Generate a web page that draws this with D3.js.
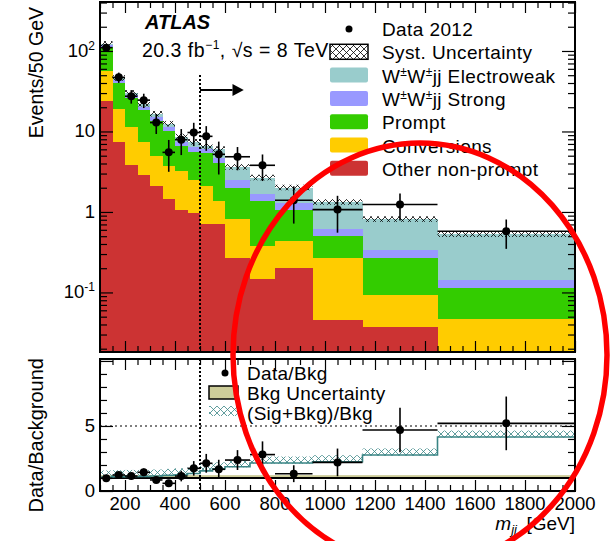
<!DOCTYPE html>
<html>
<head>
<meta charset="utf-8">
<script src="https://cdn.jsdelivr.net/npm/d3@7"></script>
<style>
  body { margin: 0; background: #fff; }
  svg { display: block; font-family: "Liberation Sans", Arial, Helvetica, sans-serif; }
</style>
</head>
<body>
<svg id="chart" width="610" height="541"></svg>
<script>
// bins in m_jj [GeV]
const binEdges = [100, 150, 200, 250, 300, 350, 400, 450, 500, 550, 600, 700, 800, 950, 1150, 1450, 2000];

// stacked backgrounds + signal, Events / 50 GeV
const otherNonPrompt = [24, 7.5, 3.8, 2.9, 2.1, 1.43, 1.07, 0.98, 0.7, 0.7, 0.27, 0.145, 0.2, 0.046, 0.037, 0];
const conversions = [32, 11.5, 7.7, 4.4, 2.8, 2.27, 2.13, 1.52, 1.4, 0.66, 0.54, 0.231, 0.234, 0.224, 0.057, 0.047];
const prompt = [56, 21, 14.5, 11.2, 8.6, 6.3, 3.4, 3.1, 3.3, 2.64, 1.19, 0.984, 0.636, 0.23, 0.176, 0.065];
const wwStrong = [6, 3, 2, 1.5, 1.7, 1.3, 0.9, 0.8, 0.6, 0.7, 0.5, 0.29, 0.23, 0.12, 0.065, 0.029];
const wwEW = [4, 3, 2, 2, 1.3, 1.1, 1.1, 1.0, 0.6, 1.3, 1.1, 1.01, 0.7, 0.7, 0.475, 0.384];

const data2012 = [110, 47, 27.4, 24.5, 12.9, 5.5, 7.9, 9.7, 8.7, 5.2, 4.85, 3.8, 1.4, 1.07, 1.24, 0.577];

// ratio panel
const ratioData = [0.98, 1.23, 1.15, 1.44, 0.85, 0.59, 1.15, 1.74, 2.13, 1.67, 2.38, 2.8, 1.33, 2.2, 4.69, 5.2];
const sigBkgRatio = [1.08, 1.1, 1.12, 1.12, 1.15, 1.2, 1.25, 1.35, 1.55, 1.7, 1.87, 2.15, 2.15, 2.25, 2.77, 4.15];

const xTicks = [200, 400, 600, 800, 1000, 1200, 1400, 1600, 1800, 2000];
const yTicks = [0.1, 1, 10, 100];
const ratioTicks = [0, 5];

const main = { left: 100, right: 575, top: 2, bottom: 352 };
const rat = { top: 359, bottom: 491 };

const svg = d3.select("#chart");
const defs = svg.append("defs");

const addHatch = (id, color) => {
  defs.append("pattern")
    .attr("id", id)
    .attr("width", 7).attr("height", 7)
    .attr("patternUnits", "userSpaceOnUse")
    .append("path")
    .attr("d", "M0,0L7,7M7,0L0,7")
    .attr("stroke", color)
    .attr("stroke-width", 0.8)
    .attr("fill", "none");
};
addHatch("hatchX", "#000");
addHatch("hatchTeal", "#3a8585");

const x = d3.scaleLinear().domain([100, 2000]).range([main.left, main.right]);
const y = d3.scaleLog().domain([0.0182, 406]).range([main.bottom, main.top]);
const yr = d3.scaleLinear().domain([0, 10.15]).range([rat.bottom, rat.top]);
const yMin = y.domain()[0];
const yy = v => y(Math.max(v, yMin));

const bins = d3.range(binEdges.length - 1).map(i => ({
  lo: binEdges[i],
  hi: binEdges[i + 1],
  mid: (binEdges[i] + binEdges[i + 1]) / 2,
  red: otherNonPrompt[i],
  conv: conversions[i],
  prompt: prompt[i],
  strong: wwStrong[i],
  ew: wwEW[i]
}));

const keys = ["red", "conv", "prompt", "strong", "ew"];
const colors = { red: "#cc3333", conv: "#ffcc00", prompt: "#33cc00", strong: "#9999ff", ew: "#99cccc" };
const stacked = d3.stack().keys(keys)(bins);

// stacked histogram
const gStack = svg.append("g").attr("shape-rendering", "crispEdges");
stacked.forEach(layer => {
  gStack.selectAll(null)
    .data(layer)
    .join("rect")
    .attr("x", d => x(d.data.lo))
    .attr("width", d => x(d.data.hi) - x(d.data.lo))
    .attr("y", d => yy(d[1]))
    .attr("height", d => Math.max(0, yy(d[0]) - yy(d[1])))
    .attr("fill", colors[layer.key]);
});

// systematic uncertainty band
const totals = stacked[stacked.length - 1].map(d => d[1]);
svg.append("g").selectAll("rect")
  .data(bins)
  .join("rect")
  .attr("x", d => x(d.lo))
  .attr("width", d => x(d.hi) - x(d.lo))
  .attr("y", (d, i) => yy(totals[i] * 1.09))
  .attr("height", (d, i) => yy(totals[i] * 0.93) - yy(totals[i] * 1.09))
  .attr("fill", "url(#hatchX)");

// cut line at 500 GeV
svg.append("line")
  .attr("x1", x(500)).attr("x2", x(500))
  .attr("y1", 75).attr("y2", main.bottom)
  .attr("stroke", "#000").attr("stroke-width", 2).attr("stroke-dasharray", "2,2");
svg.append("line")
  .attr("x1", x(500)).attr("x2", x(630))
  .attr("y1", 90).attr("y2", 90)
  .attr("stroke", "#000").attr("stroke-width", 2);
svg.append("path")
  .attr("d", `M${x(630)},84L${x(675)},90L${x(630)},96Z`)
  .attr("fill", "#000");

// data points with Poisson errors
const dataPts = bins.map((b, i) => {
  const k = (b.hi - b.lo) / 50;
  const err = Math.sqrt(data2012[i] * k) / k;
  return { ...b, v: data2012[i], err };
});
const gData = svg.append("g");
gData.selectAll(".ev")
  .data(dataPts)
  .join("line")
  .attr("x1", d => x(d.mid)).attr("x2", d => x(d.mid))
  .attr("y1", d => yy(d.v + d.err)).attr("y2", d => yy(d.v - d.err))
  .attr("stroke", "#000").attr("stroke-width", 1.6);
gData.selectAll(".eh")
  .data(dataPts)
  .join("line")
  .attr("x1", d => x(d.lo)).attr("x2", d => x(d.hi))
  .attr("y1", d => yy(d.v)).attr("y2", d => yy(d.v))
  .attr("stroke", "#000").attr("stroke-width", 1.6);
gData.selectAll("circle")
  .data(dataPts)
  .join("circle")
  .attr("cx", d => x(d.mid)).attr("cy", d => yy(d.v))
  .attr("r", 4).attr("fill", "#000");

// ---- ratio panel ----
svg.append("rect")
  .attr("x", main.left).attr("width", main.right - main.left)
  .attr("y", yr(1.22)).attr("height", yr(1) - yr(1.22))
  .attr("fill", "#cccc99");
svg.append("line")
  .attr("x1", main.left).attr("x2", main.right)
  .attr("y1", yr(1)).attr("y2", yr(1))
  .attr("stroke", "#000").attr("stroke-width", 2);

svg.append("line")
  .attr("x1", main.left).attr("x2", main.right)
  .attr("y1", yr(5)).attr("y2", yr(5))
  .attr("stroke", "#000").attr("stroke-width", 1.2).attr("stroke-dasharray", "2,3");
svg.append("line")
  .attr("x1", x(500)).attr("x2", x(500))
  .attr("y1", rat.top).attr("y2", rat.bottom)
  .attr("stroke", "#000").attr("stroke-width", 2).attr("stroke-dasharray", "2,2");

svg.append("g").selectAll("rect")
  .data(bins)
  .join("rect")
  .attr("x", d => x(d.lo))
  .attr("width", d => x(d.hi) - x(d.lo))
  .attr("y", (d, i) => yr(sigBkgRatio[i] + 0.5))
  .attr("height", (d, i) => yr(sigBkgRatio[i] - 0.05) - yr(sigBkgRatio[i] + 0.5))
  .attr("fill", "url(#hatchTeal)");

const stepPts = bins.flatMap((b, i) => [[b.lo, sigBkgRatio[i]], [b.hi, sigBkgRatio[i]]]);
svg.append("path")
  .attr("d", d3.line().x(d => x(d[0])).y(d => yr(d[1]))(stepPts))
  .attr("fill", "none").attr("stroke", "#3a8585").attr("stroke-width", 1.6);

const ratioPts = dataPts.map((d, i) => ({ ...d, r: ratioData[i], rerr: ratioData[i] * d.err / d.v }));
const gRat = svg.append("g");
gRat.selectAll(".ev")
  .data(ratioPts)
  .join("line")
  .attr("x1", d => x(d.mid)).attr("x2", d => x(d.mid))
  .attr("y1", d => yr(d.r + d.rerr)).attr("y2", d => yr(Math.max(0, d.r - d.rerr)))
  .attr("stroke", "#000").attr("stroke-width", 1.6);
gRat.selectAll(".eh")
  .data(ratioPts)
  .join("line")
  .attr("x1", d => x(d.lo)).attr("x2", d => x(d.hi))
  .attr("y1", d => yr(d.r)).attr("y2", d => yr(d.r))
  .attr("stroke", "#000").attr("stroke-width", 1.6);
gRat.selectAll("circle")
  .data(ratioPts)
  .join("circle")
  .attr("cx", d => x(d.mid)).attr("cy", d => yr(d.r))
  .attr("r", 4).attr("fill", "#000");

// ---- frames and ticks ----
const minorX = d3.range(100, 2001, 50).filter(v => !xTicks.includes(v));
const minorY = y.ticks().filter(v => !yTicks.includes(v));
const minorR = d3.range(1, 10).filter(v => v !== 5);

const axes = svg.append("g");
const put = (axis, tx, ty) => {
  const g = axes.append("g").attr("transform", `translate(${tx},${ty})`).call(axis);
  g.select(".domain").remove();
  g.selectAll("text").remove();
  g.selectAll("line").attr("stroke", "#000").attr("stroke-width", 1.2);
};
[[xTicks, -11], [minorX, -6]].forEach(([vals, size]) => {
  put(d3.axisBottom(x).tickValues(vals).tickSizeInner(size).tickSizeOuter(0), 0, main.bottom);
  put(d3.axisTop(x).tickValues(vals).tickSizeInner(size).tickSizeOuter(0), 0, main.top);
  put(d3.axisBottom(x).tickValues(vals).tickSizeInner(size).tickSizeOuter(0), 0, rat.bottom);
  put(d3.axisTop(x).tickValues(vals).tickSizeInner(size).tickSizeOuter(0), 0, rat.top);
});
[[yTicks, -13], [minorY, -7]].forEach(([vals, size]) => {
  put(d3.axisLeft(y).tickValues(vals).tickSizeInner(size).tickSizeOuter(0), main.left, 0);
  put(d3.axisRight(y).tickValues(vals).tickSizeInner(size).tickSizeOuter(0), main.right, 0);
});
[[[0, 5, 10], -13], [minorR, -7]].forEach(([vals, size]) => {
  put(d3.axisLeft(yr).tickValues(vals).tickSizeInner(size).tickSizeOuter(0), main.left, 0);
  put(d3.axisRight(yr).tickValues(vals).tickSizeInner(size).tickSizeOuter(0), main.right, 0);
});

[[main.top, main.bottom], [rat.top, rat.bottom]].forEach(([t, b]) => {
  svg.append("rect")
    .attr("x", main.left).attr("y", t)
    .attr("width", main.right - main.left).attr("height", b - t)
    .attr("fill", "none").attr("stroke", "#000").attr("stroke-width", 2);
});

// tick labels
const fs = 18.5;
const yLab = svg.append("g").attr("font-size", fs).attr("text-anchor", "end").attr("fill", "#000");
yTicks.forEach(v => {
  const t = yLab.append("text").attr("x", 95).attr("y", y(v) + 6);
  const p = Math.round(Math.log10(v));
  if (p === 0) t.text("1");
  else if (p === 1) t.text("10");
  else {
    t.append("tspan").text("10");
    t.append("tspan").attr("dy", -7).attr("font-size", 12).text(p);
  }
});
ratioTicks.forEach(v => {
  yLab.append("text").attr("x", 95).attr("y", yr(v) + 6).text(v);
});
svg.append("g").attr("font-size", fs).attr("text-anchor", "middle")
  .selectAll("text").data(xTicks).join("text")
  .attr("x", d => x(d)).attr("y", 510).text(d => d);

// axis titles
svg.append("text")
  .attr("transform", "translate(43,7) rotate(-90)")
  .attr("text-anchor", "end").attr("font-size", 19.5)
  .text("Events/50 GeV");
svg.append("text")
  .attr("transform", `translate(43,${rat.top - 1}) rotate(-90)`)
  .attr("text-anchor", "end").attr("font-size", 20)
  .text("Data/Background");
const xt = svg.append("text").attr("x", main.right).attr("y", 530)
  .attr("text-anchor", "end").attr("font-size", 19);
xt.append("tspan").attr("font-style", "italic").text("m");
xt.append("tspan").attr("dy", 4).attr("font-size", 13).attr("font-style", "italic").text("jj");
xt.append("tspan").attr("dy", -4).text("\u2002[GeV]");

// ATLAS label
svg.append("text").attr("x", 145).attr("y", 29)
  .attr("font-size", 20).attr("font-weight", "bold").attr("font-style", "italic")
  .text("ATLAS");
const lumi = svg.append("text").attr("x", 142).attr("y", 57)
  .attr("font-size", 19.5).attr("letter-spacing", 0.5);
lumi.append("tspan").text("20.3 fb");
lumi.append("tspan").attr("dy", -8).attr("font-size", 12).text("\u22121");
lumi.append("tspan").attr("dy", 8).text(", \u221As = 8 TeV");

// main legend
const legItems = [
  { label: "Data 2012", type: "dot" },
  { label: "Syst. Uncertainty", type: "hatch" },
  { label: ["W", "\u00B1", "W", "\u00B1", "jj Electroweak"], type: "box", color: colors.ew },
  { label: ["W", "\u00B1", "W", "\u00B1", "jj Strong"], type: "box", color: colors.strong },
  { label: "Prompt", type: "box", color: colors.prompt },
  { label: "Conversions", type: "box", color: colors.conv },
  { label: "Other non-prompt", type: "box", color: colors.red }
];
const leg = svg.append("g");
legItems.forEach((it, i) => {
  const cy = 29 + i * 23.3;
  if (it.type === "dot") {
    leg.append("circle").attr("cx", 349).attr("cy", cy).attr("r", 3.5).attr("fill", "#000");
  } else if (it.type === "hatch") {
    leg.append("rect").attr("x", 330).attr("y", cy - 8).attr("width", 38).attr("height", 15)
      .attr("fill", "url(#hatchX)").attr("stroke", "#000").attr("stroke-width", 1.5);
  } else {
    leg.append("rect").attr("x", 330).attr("y", cy - 8).attr("width", 38).attr("height", 15)
      .attr("rx", 2).attr("fill", it.color);
  }
  const t = leg.append("text").attr("x", 382).attr("y", cy + 7)
    .attr("font-size", 19).attr("letter-spacing", 0.4);
  if (Array.isArray(it.label)) {
    it.label.forEach((s, j) => {
      const sup = j % 2 === 1 && j < 4;
      t.append("tspan")
        .attr("dy", sup ? -7 : (j > 0 ? 7 : 0))
        .attr("font-size", sup ? 12 : null)
        .text(s);
    });
  } else t.text(it.label);
});

// ratio legend
const rleg = svg.append("g").attr("font-size", 19).attr("letter-spacing", 0.3);
rleg.append("circle").attr("cx", 225).attr("cy", 373).attr("r", 3.5).attr("fill", "#000");
rleg.append("text").attr("x", 247).attr("y", 380).text("Data/Bkg");
rleg.append("rect").attr("x", 209).attr("y", 386).attr("width", 29).attr("height", 13)
  .attr("fill", "#cccc99").attr("stroke", "#000").attr("stroke-width", 1.5);
rleg.append("text").attr("x", 247).attr("y", 400).text("Bkg Uncertainty");
rleg.append("rect").attr("x", 209).attr("y", 406).attr("width", 29).attr("height", 10)
  .attr("fill", "url(#hatchTeal)");
rleg.append("text").attr("x", 247).attr("y", 420).text("(Sig+Bkg)/Bkg");

// red annotation ellipse
svg.append("ellipse")
  .attr("cx", 420).attr("cy", 355).attr("rx", 187).attr("ry", 212)
  .attr("fill", "none").attr("stroke", "#ff0000").attr("stroke-width", 5.5);
</script>
</body>
</html>
